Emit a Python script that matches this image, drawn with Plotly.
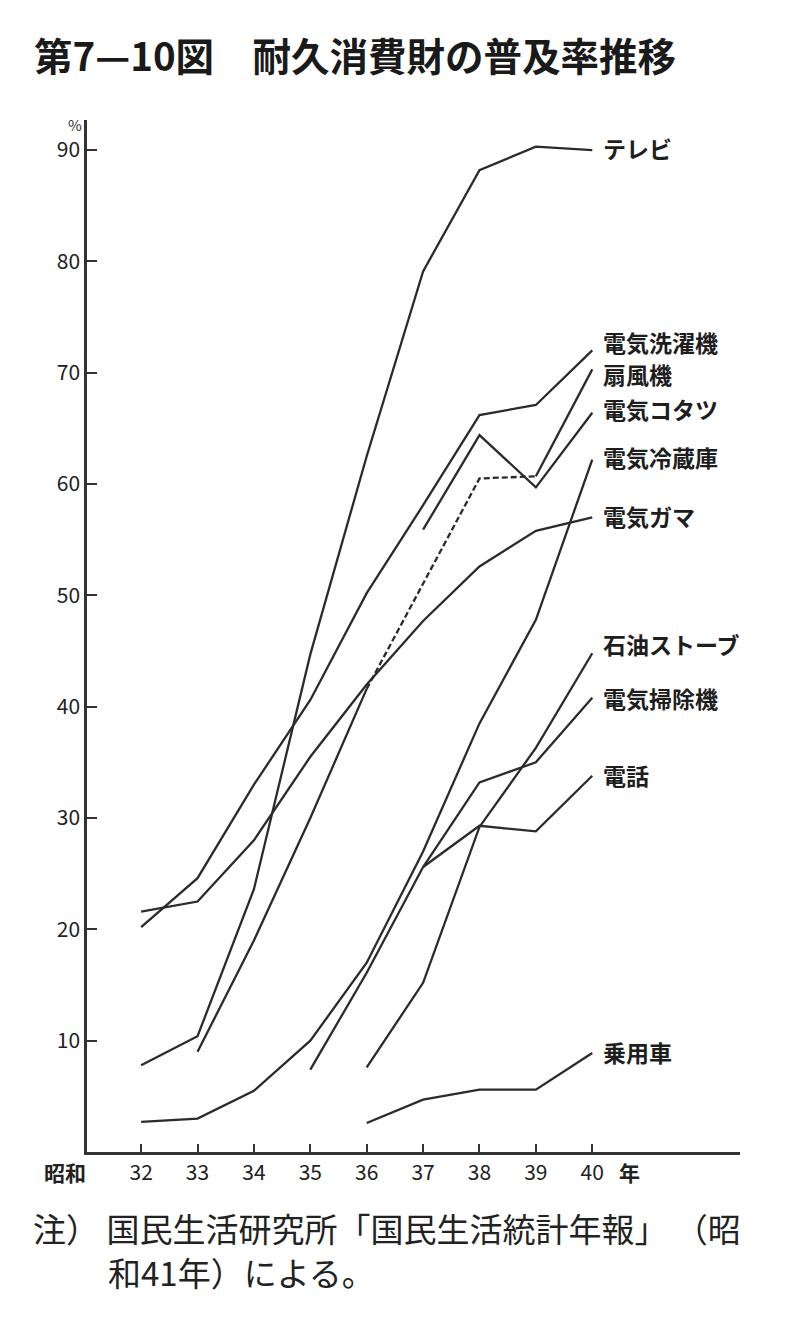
import plotly.graph_objects as go

# ---- data ----
years = [32, 33, 34, 35, 36, 37, 38, 39, 40]
year_labels = ["32", "33", "34", "35", "36", "37", "38", "39", "40"]
y_ticks = [10, 20, 30, 40, 50, 60, 70, 80, 90]

tv        = [7.8, 10.4, 23.6, 44.7, 62.5, 79.1, 88.2, 90.3, 90.0]
washer    = [20.2, 24.6, 33.0, 40.6, 50.2, 58.1, 66.2, 67.1, 72.0]
fan       = [None, 9.0, 19.0, 30.0, 41.6, 51.0, 60.5, 60.7, 70.3]
kotatsu   = [None, None, None, None, None, 55.9, 64.4, 59.7, 66.4]
fridge    = [2.7, 3.0, 5.5, 10.0, 17.0, 27.0, 38.5, 47.8, 62.2]
ricecook  = [21.6, 22.5, 28.0, 35.5, 42.0, 47.7, 52.6, 55.8, 57.0]
stove     = [None, None, None, None, 7.6, 15.2, 29.2, 36.3, 44.8]
vacuum    = [None, None, None, 7.4, 16.1, 25.6, 33.2, 35.0, 40.8]
phone     = [None, None, None, None, None, 25.6, 29.3, 28.8, 33.8]
car       = [None, None, None, None, 2.6, 4.7, 5.6, 5.6, 8.9]

series_names = ["テレビ", "電気洗濯機", "扇風機", "電気コタツ", "電気冷蔵庫",
                "電気ガマ", "石油ストーブ", "電気掃除機", "電話", "乗用車"]
series_vals = [tv, washer, fan, kotatsu, fridge, ricecook, stove, vacuum, phone, car]
label_shift = [0.2, 0.8, -0.4, 0.3, 0.2, 0.1, 0.8, 0.0, 0.1, 0.1]

title_text = "<b>第7—10図　耐久消費財の普及率推移</b>"
note_1 = "注） 国民生活研究所「国民生活統計年報」 （昭"
note_2 = "和41年）による。"

LINE = "#2b2b2b"
JP = "Noto Sans CJK JP, Noto Sans, sans-serif"

fig = go.Figure()

def seg(vals, lo, hi):
    return [v if lo <= y <= hi else None for y, v in zip(years, vals)]

for name, vals in zip(series_names, series_vals):
    if name == "扇風機":
        parts = [(seg(vals, 33, 36), "solid"), (seg(vals, 36, 39), "dash"),
                 (seg(vals, 39, 40), "solid")]
    else:
        parts = [(vals, "solid")]
    for v, d in parts:
        fig.add_trace(go.Scatter(
            x=years, y=v, mode="lines", name=name, showlegend=False,
            line=dict(color=LINE, width=2.3, dash=d if d == "solid" else "6px,3px"),
            connectgaps=False, hoverinfo="skip"))

# right-side labels
for name, vals, sh in zip(series_names, series_vals, label_shift):
    fig.add_annotation(x=years[-1], y=vals[-1] + sh, xref="x", yref="y",
                       text="<b>" + name + "</b>", showarrow=False,
                       xanchor="left", yanchor="middle", xshift=9,
                       font=dict(family=JP, size=23, color="#1e1e1e"))

# axis decorations
fig.add_annotation(xref="paper", yref="y", x=0, y=92.3, xshift=-12, text="%",
                   showarrow=False, xanchor="center", yanchor="middle",
                   font=dict(family=JP, size=15, color="#333"))
fig.add_annotation(xref="paper", yref="paper", x=-0.034, y=-0.0194, text="<b>昭和</b>",
                   showarrow=False, xanchor="center", yanchor="middle",
                   font=dict(family=JP, size=21, color="#222"))
fig.add_annotation(xref="paper", yref="paper", x=0.8315, y=-0.0194, text="<b>年</b>",
                   showarrow=False, xanchor="center", yanchor="middle",
                   font=dict(family=JP, size=21, color="#222"))

# note
fig.add_annotation(xref="paper", yref="paper", x=-0.0857, y=-0.0736, text=note_1,
                   showarrow=False, xanchor="left", yanchor="middle",
                   font=dict(family=JP, size=33, color="#222"))
fig.add_annotation(xref="paper", yref="paper", x=0.0295, y=-0.1163, text=note_2,
                   showarrow=False, xanchor="left", yanchor="middle",
                   font=dict(family=JP, size=33, color="#222"))

fig.update_layout(
    width=800, height=1340,
    margin=dict(l=79, r=68, t=112, b=196),
    paper_bgcolor="white", plot_bgcolor="white",
    title=dict(text=title_text, x=26 / 800, xref="container", xanchor="left",
               y=1 - 50 / 1340, yref="container", yanchor="middle",
               font=dict(family=JP, size=38.5, color="#1a1a1a")),
    xaxis=dict(range=[31.04, 42.62], tickvals=years, ticktext=year_labels,
               showline=True, linewidth=2.5, linecolor="#333", ticks="inside",
               ticklen=8, tickwidth=2, tickcolor="#333", showgrid=False,
               zeroline=False, automargin=False,
               tickfont=dict(family=JP, size=21, color="#222")),
    yaxis=dict(range=[0, 92.7], tickvals=y_ticks,
               showline=True, linewidth=2.5, linecolor="#333", ticks="inside",
               ticklen=10, tickwidth=2, tickcolor="#333", showgrid=False,
               zeroline=False, automargin=False,
               tickfont=dict(family=JP, size=21, color="#222")),
)

fig.write_html("out.html")
